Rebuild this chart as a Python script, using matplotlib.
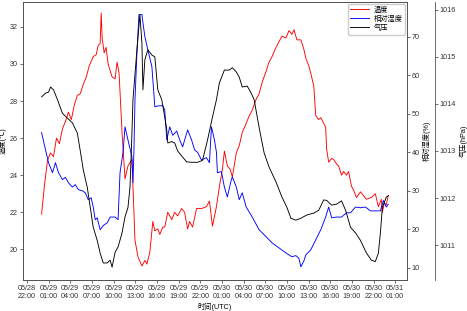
import pandas as pd
import matplotlib
matplotlib.use("Agg")
import matplotlib.pyplot as plt
import matplotlib.dates as mdates

plt.rcParams['font.family'] = ['Liberation Sans', 'Noto Sans CJK SC']
plt.rcParams['axes.unicode_minus'] = False

# hours since 2023-05-28 00:00 (UTC)
temp_hours = [24.04, 24.45, 24.86, 25.28, 25.69, 26.10, 26.51, 26.93, 27.34, 27.75,
              28.16, 28.58, 28.99, 29.40, 29.81, 30.23, 30.64, 31.19, 31.60, 31.88,
              32.15, 32.29, 32.43, 32.70, 32.97, 33.25, 33.80, 34.22, 34.49, 34.77,
              35.18, 35.59, 36.00, 36.55, 36.69, 36.97, 37.38, 37.93, 38.34, 38.62,
              39.03, 39.44, 39.72, 40.13, 40.41, 40.82, 41.09, 41.51, 42.06, 42.47,
              42.88, 43.43, 43.84, 44.26, 44.53, 44.95, 45.50, 46.18, 46.87, 47.28,
              47.70, 48.25, 48.66, 49.07, 49.35, 49.76, 50.17, 50.45, 51.00, 51.41,
              51.82, 52.37, 52.78, 53.20, 53.75, 54.16, 54.57, 55.12, 55.53, 55.95,
              56.50, 56.91, 57.32, 57.87, 58.29, 58.70, 58.98, 59.39, 59.94, 60.35,
              60.63, 61.04, 61.31, 61.73, 62.00, 62.41, 62.69, 63.10, 63.37, 63.51,
              63.79, 64.20, 64.47, 64.89, 65.16, 65.57, 65.85, 66.26, 66.54, 66.95,
              67.23, 67.64, 68.19, 68.60, 69.02, 69.70, 70.25, 70.67, 71.08, 71.22,
              71.49, 71.77, 72.04]
temp = [21.9, 23.5, 24.8, 25.2, 25.0, 26.0, 25.7, 26.5, 26.9, 27.4,
        27.0, 27.8, 28.3, 28.4, 28.9, 29.3, 29.9, 30.4, 30.5, 31.0,
        31.1, 32.75, 31.4, 30.6, 30.9, 30.0, 29.3, 29.2, 30.1, 29.5,
        26.3, 23.8, 24.5, 24.85, 23.4, 20.5, 19.6, 19.1, 19.4, 19.2,
        19.85, 21.5, 21.0, 21.1, 20.8, 21.2, 21.2, 22.0, 21.6, 22.0,
        21.8, 22.2, 22.0, 21.1, 21.5, 21.2, 22.2, 22.2, 22.3, 22.6,
        21.25, 22.3, 23.4, 24.3, 25.3, 24.5, 24.3, 23.9, 25.2, 25.6,
        26.3, 26.8, 27.2, 27.5, 28.1, 28.4, 29.0, 29.6, 30.1, 30.4,
        30.9, 31.2, 31.5, 31.4, 31.8, 31.6, 31.85, 31.3, 31.3, 30.8,
        30.3, 29.9, 29.5, 28.8, 27.2, 27.0, 27.1, 26.8, 26.6, 25.4,
        24.7, 24.9, 24.85, 24.6, 24.5, 24.0, 24.2, 24.0, 24.2, 23.4,
        23.2, 22.8, 23.1, 22.9, 22.7, 22.8, 23.0, 22.3, 22.7, 22.0,
        22.5, 22.4, 22.9]

hum_hours = [24.04, 24.59, 25.00, 25.55, 25.96, 26.38, 26.93, 27.34, 27.75, 28.30,
             28.71, 29.13, 29.68, 30.09, 30.50, 30.91, 31.19, 31.47, 31.74, 32.15,
             32.57, 33.12, 33.53, 34.22, 34.63, 34.90, 35.31, 35.59, 36.00, 36.55,
             36.69, 36.83, 36.97, 37.24, 37.52, 37.93, 38.07, 38.34, 38.75, 39.31,
             39.72, 40.13, 40.82, 41.09, 41.37, 41.78, 42.20, 42.75, 43.16, 43.57,
             44.26, 44.81, 45.22, 45.63, 46.18, 46.87, 47.28, 47.56, 47.97, 48.25,
             48.38, 48.93, 49.35, 49.76, 50.31, 50.45, 51.00, 51.41, 51.82, 52.37,
             53.20, 54.16, 55.12, 55.95, 56.91, 57.87, 58.70, 59.25, 59.66, 59.94,
             60.35, 60.63, 61.31, 62.00, 62.69, 63.37, 63.79, 64.20, 64.89, 65.57,
             66.26, 66.81, 67.50, 68.19, 68.88, 69.57, 70.40, 70.95, 71.36, 71.77,
             72.04]
humidity = [45.1, 40.6, 37.3, 34.7, 37.3, 34.7, 32.9, 33.5, 32.1, 31.0,
            31.6, 30.3, 30.0, 29.5, 27.7, 28.2, 25.8, 22.5, 23.0, 19.9,
            21.0, 21.7, 23.2, 23.2, 22.5, 34.7, 39.9, 46.6, 43.2, 38.8,
            32.1, 40.6, 53.6, 65.8, 75.7, 75.7, 73.6, 70.0, 66.6, 62.2,
            51.8, 52.0, 52.1, 51.0, 43.2, 46.6, 44.4, 45.5, 43.2, 41.4,
            45.8, 43.2, 40.6, 40.0, 38.0, 38.6, 37.3, 46.6, 43.2, 40.0,
            34.7, 35.0, 31.0, 28.4, 32.9, 33.6, 31.0, 27.7, 29.5, 25.8,
            23.2, 19.9, 18.1, 16.5, 15.2, 13.9, 12.9, 13.2, 12.5, 10.3,
            11.8, 13.4, 14.7, 17.3, 19.9, 23.2, 25.8, 23.0, 23.2, 23.2,
            24.3, 24.3, 25.8, 25.6, 25.8, 24.8, 24.8, 24.8, 27.5, 25.8,
            26.5]

pres_hours = [24.04, 24.59, 25.00, 25.28, 25.69, 26.24, 26.93, 27.61, 28.30, 28.99,
              29.40, 29.81, 30.36, 30.78, 31.19, 31.74, 32.15, 32.57, 33.12, 33.53,
              33.80, 34.22, 34.63, 35.18, 35.59, 36.00, 36.28, 36.55, 36.69, 37.24,
              37.65, 37.93, 38.07, 38.34, 38.75, 39.31, 39.72, 40.13, 40.68, 41.09,
              41.37, 41.51, 42.06, 42.47, 42.88, 43.57, 44.12, 44.81, 45.63, 46.32,
              47.01, 47.70, 48.25, 48.66, 49.35, 50.03, 50.45, 51.00, 51.41, 51.82,
              52.51, 53.06, 53.47, 54.16, 54.85, 55.53, 56.50, 57.32, 58.01, 58.56,
              59.25, 59.94, 60.76, 61.73, 62.41, 63.10, 63.51, 64.20, 64.89, 65.57,
              66.13, 66.81, 67.50, 68.19, 69.02, 69.70, 70.25, 70.67, 70.95, 71.22,
              71.77, 72.04]
pressure = [1014.15, 1014.23, 1014.25, 1014.36, 1014.30, 1014.09, 1013.80, 1013.70, 1013.60, 1013.38,
            1013.00, 1012.60, 1012.23, 1011.80, 1011.38, 1011.10, 1010.83, 1010.62, 1010.62, 1010.68,
            1010.53, 1010.85, 1010.96, 1011.26, 1011.60, 1011.80, 1012.23, 1013.38, 1014.09, 1015.15,
            1015.90, 1015.30, 1014.30, 1014.94, 1015.15, 1015.04, 1015.00, 1014.30, 1014.09, 1013.72,
            1013.45, 1013.17, 1013.20, 1013.17, 1013.00, 1012.87, 1012.77, 1012.76, 1012.76, 1012.80,
            1013.23, 1013.72, 1014.09, 1014.45, 1014.72, 1014.72, 1014.77, 1014.68, 1014.57, 1014.36,
            1014.38, 1014.23, 1014.09, 1013.50, 1012.96, 1012.66, 1012.34, 1012.02, 1011.80, 1011.57,
            1011.53, 1011.57, 1011.64, 1011.68, 1011.74, 1011.96, 1011.95, 1011.85, 1011.87, 1011.94,
            1011.74, 1011.38, 1011.26, 1011.10, 1010.83, 1010.68, 1010.65, 1010.83, 1011.26, 1011.80,
            1012.02, 1012.05]

base = pd.Timestamp("2023-05-28 00:00")


def to_time(hours):
    return base + pd.to_timedelta(hours, unit="h")


fs = 5.2
fig = plt.figure(figsize=(4.67, 3.11), dpi=100)
ax = fig.add_axes([0.049, 0.10, 0.822, 0.894])
ax2 = ax.twinx()
ax3 = ax.twinx()
ax3.spines['right'].set_position(('axes', 1.073))

l1, = ax.plot(to_time(temp_hours), temp, color='red', lw=0.65, label='温度')
l2, = ax2.plot(to_time(hum_hours), humidity, color='blue', lw=0.65, label='相对湿度')
l3, = ax3.plot(to_time(pres_hours), pressure, color='black', lw=0.65, label='气压')

ax.set_xlim(to_time(21.45), to_time(74.6))
ax.set_ylim(18.35, 33.35)
ax2.set_ylim(6.9, 79.0)
ax3.set_ylim(1010.26, 1016.17)

ticks = pd.date_range("2023-05-28 22:00", "2023-05-31 01:00", freq="3h")
ax.set_xticks(ticks)
ax.xaxis.set_major_formatter(mdates.DateFormatter("%m/%d\n%H:%M"))
ax.set_yticks([20, 22, 24, 26, 28, 30, 32])
ax2.set_yticks([10, 20, 30, 40, 50, 60, 70])
ax3.set_yticks([1011, 1012, 1013, 1014, 1015, 1016])

ax.set_xlabel("时间(UTC)", fontsize=fs, labelpad=2)
ax.set_ylabel("温度(℃)", fontsize=fs, labelpad=2)
ax2.set_ylabel("相对湿度(%)", fontsize=fs, labelpad=2)
ax3.set_ylabel("气压(hPa)", fontsize=fs, labelpad=2)

for a in (ax, ax2, ax3):
    a.tick_params(labelsize=fs, length=2, width=0.5, pad=1.5, colors='#333333')
    for s in a.spines.values():
        s.set_linewidth(0.6)
        s.set_color('#555555')

ax.legend(handles=[l1, l2, l3], loc='upper right', fontsize=fs,
          handlelength=2.6, handletextpad=0.6, borderpad=0.35, labelspacing=0.25,
          framealpha=1, edgecolor='#cccccc', fancybox=True, borderaxespad=0.25)

fig.savefig("out.png", dpi=100)
